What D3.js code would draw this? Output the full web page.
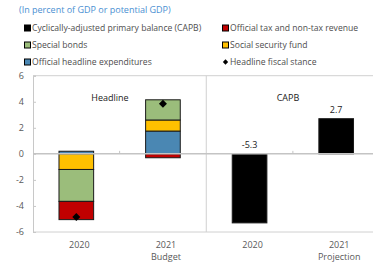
<!DOCTYPE html>
<html>
<head>
<meta charset="utf-8">
<script src="https://cdn.jsdelivr.net/npm/d3@7"></script>
<style>
  html, body { margin: 0; padding: 0; background: #fff; }
  svg text { font-family: "Open Sans", "Noto Sans", sans-serif; }
</style>
</head>
<body>
<div id="chart"></div>
<script>
const categories = ["h2020", "h2021", "c2020", "c2021"];
const yearLabels = ["2020", "2021", "2020", "2021"];
const subLabels = ["", "Budget", "", "Projection"];

const headlineCats = ["h2020", "h2021"];
const expenditures = [0.2, 1.75];
const socialSecurity = [-1.2, 0.85];
const specialBonds = [-2.45, 1.55];
const revenue = [-1.4, -0.3];
const fiscalStance = [-4.85, 3.85];

const capbCats = ["c2020", "c2021"];
const capb = [-5.3, 2.7];

const yTicks = [-6, -4, -2, 0, 2, 4, 6];

const seriesKeys = ["exp", "ssf", "bonds", "rev"];
const seriesColors = { exp: "#4a87b3", ssf: "#ffc000", bonds: "#9bbd7b", rev: "#c00000" };

const legendItems = [
  { label: "Cyclically-adjusted primary balance (CAPB)", color: "#000", col: 0, row: 0 },
  { label: "Official tax and non-tax revenue", color: "#c00000", col: 1, row: 0 },
  { label: "Special bonds", color: "#9bbd7b", col: 0, row: 1 },
  { label: "Social security fund", color: "#ffc000", col: 1, row: 1 },
  { label: "Official headline expenditures", color: "#4a87b3", col: 0, row: 2 },
  { label: "Headline fiscal stance", diamond: true, col: 1, row: 2 },
];

const width = 373;
const height = 262;
const svg = d3.select("#chart").append("svg").attr("width", width).attr("height", height);

svg.append("text")
  .attr("x", 19).attr("y", 13)
  .attr("fill", "#4a90d2")
  .attr("font-size", 9)
  .text("(In percent of GDP or potential GDP)");

// legend
const legend = svg.append("g");
legendItems.forEach((d) => {
  const lx = d.col === 0 ? 24 : 222;
  const ly = 28 + d.row * 17;
  if (d.diamond) {
    legend.append("path")
      .attr("d", d3.symbol().type(d3.symbolSquare).size(14)())
      .attr("transform", `translate(${lx + 3.5},${ly}) rotate(45)`)
      .attr("fill", "#000");
  } else {
    legend.append("rect")
      .attr("x", lx + 0.5).attr("y", ly - 3).attr("width", 6).attr("height", 6)
      .attr("fill", d.color).attr("stroke", "#000").attr("stroke-width", 1);
  }
  legend.append("text")
    .attr("x", lx + 8).attr("y", ly + 3)
    .attr("font-size", 8.6)
    .attr("fill", "#4d4d4d")
    .text(d.label);
});

const left = 33;
const x = d3.scaleBand().domain(categories).range([left, 379.5]).paddingInner(0.6).paddingOuter(0.3);
const y = d3.scaleLinear().domain([-6, 6]).range([232, 75.7]);

const grid = svg.append("g").attr("stroke", "#d0d0d0").attr("stroke-width", 1);
grid.append("line").attr("x1", left).attr("x2", width).attr("y1", y(6)).attr("y2", y(6));
grid.append("line").attr("x1", left).attr("x2", width).attr("y1", y(-6)).attr("y2", y(-6));
const divX = x("c2020") - x.step() * x.paddingInner() / 2;
grid.append("line").attr("x1", divX).attr("x2", divX).attr("y1", y(6)).attr("y2", y(-6));

// y axis
svg.append("g")
  .attr("transform", `translate(${left},0)`)
  .call(d3.axisRight(y).tickValues(yTicks).tickSize(3).tickFormat(() => ""))
  .call((g) => g.selectAll("line, path").attr("stroke", "#c8c8c8"));
svg.append("g")
  .selectAll("text")
  .data(yTicks)
  .join("text")
  .attr("x", 24).attr("y", (d) => y(d) + 3)
  .attr("text-anchor", "end")
  .attr("font-size", 9)
  .attr("fill", "#595959")
  .text((d) => d);

// stacked headline bars
const rows = headlineCats.map((c, i) => ({
  cat: c, exp: expenditures[i], ssf: socialSecurity[i], bonds: specialBonds[i], rev: revenue[i],
}));
const stack = d3.stack().keys(seriesKeys).offset(d3.stackOffsetDiverging)(rows);

svg.append("g")
  .selectAll("g")
  .data(stack)
  .join("g")
  .attr("fill", (s) => seriesColors[s.key])
  .selectAll("rect")
  .data((s) => s)
  .join("rect")
  .attr("x", (d) => x(d.data.cat))
  .attr("width", x.bandwidth())
  .attr("y", (d) => y(Math.max(d[0], d[1])))
  .attr("height", (d) => Math.abs(y(d[0]) - y(d[1])))
  .attr("stroke", "#1a1a1a")
  .attr("stroke-width", 1);

// capb bars
svg.append("g")
  .selectAll("rect")
  .data(capbCats)
  .join("rect")
  .attr("x", (d) => x(d))
  .attr("width", x.bandwidth())
  .attr("y", (d, i) => y(Math.max(0, capb[i])))
  .attr("height", (d, i) => Math.abs(y(capb[i]) - y(0)))
  .attr("fill", "#000")
  .attr("stroke", "#1a1a1a");

// zero line
svg.append("line")
  .attr("x1", left).attr("x2", width).attr("y1", y(0)).attr("y2", y(0))
  .attr("stroke", "#c4c4c4").attr("stroke-width", 1.5);
svg.append("g")
  .selectAll("line")
  .data([x("h2021") - x.step() * 0.3, x("c2021") - x.step() * 0.3])
  .join("line")
  .attr("x1", (d) => d).attr("x2", (d) => d)
  .attr("y1", y(0) - 3).attr("y2", y(0))
  .attr("stroke", "#c4c4c4");

// diamonds
svg.append("g")
  .selectAll("path")
  .data(headlineCats)
  .join("path")
  .attr("d", d3.symbol().type(d3.symbolSquare).size(32)())
  .attr("transform", (d, i) => `translate(${x(d) + x.bandwidth() / 2},${y(fiscalStance[i])}) rotate(45)`)
  .attr("fill", "#000");

// value labels
svg.append("g")
  .selectAll("text")
  .data(capbCats)
  .join("text")
  .attr("x", (d) => x(d) + x.bandwidth() / 2)
  .attr("y", (d, i) => y(Math.max(0, capb[i])) - 6)
  .attr("text-anchor", "middle")
  .attr("font-size", 9)
  .attr("fill", "#1a1a1a")
  .text((d, i) => capb[i].toFixed(1));

// panel labels
svg.append("text").attr("x", 110).attr("y", 101).attr("text-anchor", "middle")
  .attr("font-size", 9).attr("fill", "#1a1a1a").text("Headline");
svg.append("text").attr("x", 288).attr("y", 101).attr("text-anchor", "middle")
  .attr("font-size", 9).attr("fill", "#1a1a1a").text("CAPB");

// x labels
const xl = svg.append("g").attr("font-size", 9).attr("fill", "#595959").attr("text-anchor", "middle");
categories.forEach((c, i) => {
  const cx = x(c) + x.bandwidth() / 2 + 3;
  xl.append("text").attr("x", cx).attr("y", 248).text(yearLabels[i]);
  if (subLabels[i]) xl.append("text").attr("x", cx).attr("y", 260).text(subLabels[i]);
});
</script>
</body>
</html>
